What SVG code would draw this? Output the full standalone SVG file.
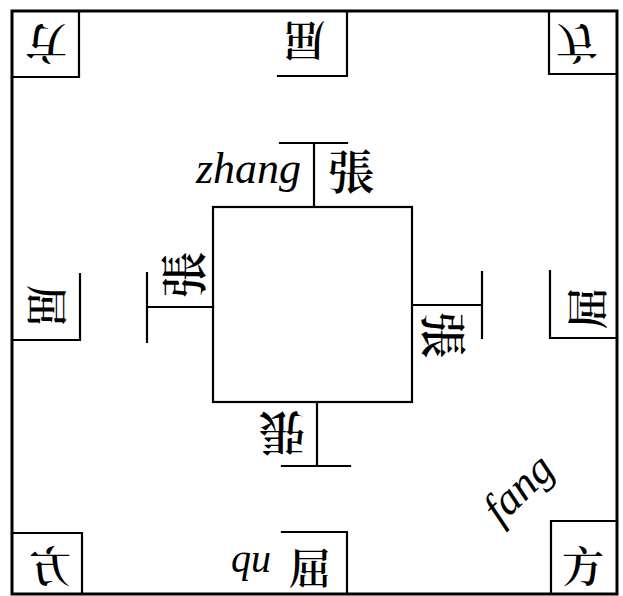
<svg xmlns="http://www.w3.org/2000/svg" width="623" height="596" viewBox="0 0 623 596">
<style>
.ln{fill:none;stroke:#000;stroke-width:2.2;stroke-linecap:square}
.bd{fill:none;stroke:#000;stroke-width:3}
.cj{font-family:"Noto Serif CJK TC","Noto Sans CJK TC","Noto Sans CJK SC",sans-serif;font-size:42px;font-weight:600;fill:#000;text-anchor:middle;dominant-baseline:central}
.zh{font-size:47px}
.it{font-family:"Liberation Serif","Times New Roman",serif;font-style:italic;fill:#000}
</style>
<rect width="623" height="596" fill="#fff"/>
<g id="board">
<rect class="bd" x="12" y="11" width="605" height="583"/>
</g>
<g id="inner-square">
<rect class="ln" x="213" y="207" width="199" height="195"/>
</g>
<g id="corner-tl"><path class="ln" d="M79 11V77H12"/><text class="cj" transform="translate(46,46) rotate(180)">方</text></g>
<g id="corner-tr"><path class="ln" d="M549 11V74H617"/><text class="cj" transform="translate(577,46) scale(1,-1)">方</text></g>
<g id="corner-bl"><path class="ln" d="M12 533H82V594"/><text class="cj" transform="translate(50,564) scale(-1,1)">方</text></g>
<g id="corner-br"><path class="ln" d="M551 594V521H617"/><text class="cj" transform="translate(583,564)">方</text></g>
<g id="edge-top"><path class="ln" d="M278 76H347V11"/><text class="cj" transform="translate(304,43) rotate(180)">屈</text></g>
<g id="edge-left"><path class="ln" d="M80 274V340H12"/><text class="cj" transform="translate(49,306) rotate(90)">屈</text></g>
<g id="edge-right"><path class="ln" d="M550 271V338H617"/><text class="cj" transform="translate(585,308) rotate(-90)">屈</text></g>
<g id="edge-bottom"><path class="ln" d="M282 532H347V594"/><text class="cj" transform="translate(310,566)">屈</text><text class="it" x="231" y="572" font-size="40">qu</text></g>
<g id="zhang-top"><text class="cj zh" transform="translate(351,168)">張</text><text class="it" x="196" y="183" font-size="44">zhang</text></g>
<g id="zhang-left"><text class="cj zh" transform="translate(180,275) rotate(-90)">張</text></g>
<g id="zhang-right"><text class="cj zh" transform="translate(446,335) rotate(90)">張</text></g>
<g id="zhang-bottom"><text class="cj zh" transform="translate(282,436) rotate(180)">張</text></g>
<g id="fang-label"><text class="it" font-size="44" transform="translate(500,526) rotate(-44)">fang</text></g>
<g id="connectors">
<path class="ln" d="M314 207V143M280 143H347"/>
<path class="ln" d="M213 307H147M147 273V342"/>
<path class="ln" d="M413 305H482M482 272V338"/>
<path class="ln" d="M317 402V466M282 466H350"/>
</g>
</svg>
